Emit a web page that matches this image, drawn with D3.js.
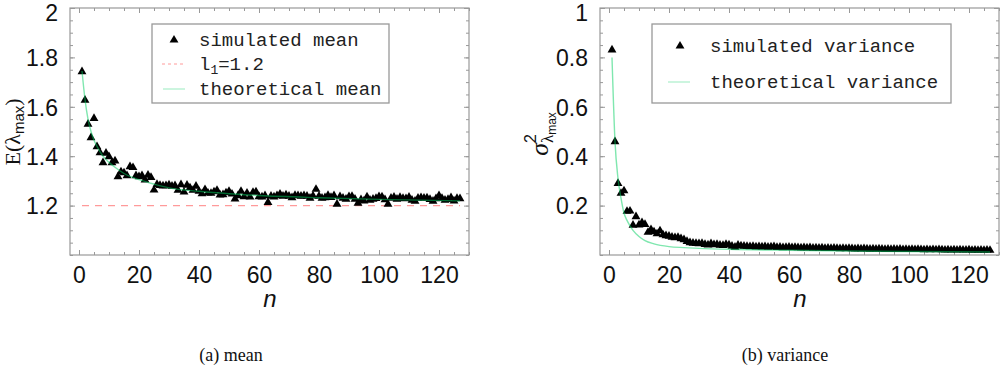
<!DOCTYPE html>
<html>
<head>
<meta charset="utf-8">
<script src="https://cdn.jsdelivr.net/npm/d3@7"></script>
<style>
  body { margin: 0; background: #fff; }
  svg { display: block; }
  .tick text { font-family: "Liberation Sans", Arial, sans-serif; font-size: 23px; fill: #111; }
  .legend text { font-family: "Liberation Mono", "Courier New", monospace; font-size: 19px; fill: #222; }
</style>
</head>
<body>
<div id="chart"></div>
<script>
const width = 1000, height = 368;

// simulated mean E(lambda_max), n = 1..127
const simMean = [
  1.742, 1.627, 1.530, 1.475, 1.553, 1.439, 1.414, 1.374, 1.412, 1.398,
  1.374, 1.381, 1.317, 1.337, 1.333, 1.321, 1.358, 1.354, 1.321, 1.317,
  1.321, 1.304, 1.323, 1.314, 1.263, 1.286, 1.282, 1.280, 1.281, 1.284,
  1.279, 1.281, 1.262, 1.285, 1.255, 1.283, 1.272, 1.262, 1.279, 1.258,
  1.248, 1.265, 1.251, 1.250, 1.256, 1.262, 1.243, 1.244, 1.252, 1.258,
  1.247, 1.227, 1.240, 1.258, 1.236, 1.251, 1.235, 1.254, 1.256, 1.236,
  1.235, 1.240, 1.213, 1.238, 1.235, 1.240, 1.247, 1.238, 1.243, 1.238,
  1.232, 1.241, 1.240, 1.238, 1.240, 1.238, 1.230, 1.239, 1.266, 1.238,
  1.230, 1.232, 1.241, 1.233, 1.240, 1.206, 1.236, 1.230, 1.226, 1.236,
  1.237, 1.226, 1.210, 1.224, 1.219, 1.235, 1.222, 1.226, 1.229, 1.236,
  1.235, 1.224, 1.206, 1.230, 1.234, 1.226, 1.233, 1.229, 1.228, 1.234,
  1.222, 1.218, 1.230, 1.232, 1.230, 1.231, 1.225, 1.218, 1.228, 1.240,
  1.229, 1.222, 1.225, 1.232, 1.219, 1.229, 1.228
];

// simulated variance, n = 1..127
const simVar = [
  0.830, 0.459, 0.290, 0.250, 0.260, 0.177, 0.178, 0.121, 0.155, 0.122,
  0.131, 0.124, 0.092, 0.103, 0.094, 0.086, 0.098, 0.082, 0.078, 0.076,
  0.072, 0.070, 0.071, 0.066, 0.062, 0.055, 0.050, 0.048, 0.047, 0.046,
  0.047, 0.043, 0.041, 0.046, 0.042, 0.043, 0.040, 0.039, 0.043, 0.041,
  0.036, 0.032, 0.040, 0.037, 0.036, 0.035, 0.034, 0.035, 0.033, 0.034,
  0.033, 0.034, 0.032, 0.033, 0.034, 0.031, 0.032, 0.030, 0.031, 0.032,
  0.030, 0.031, 0.030, 0.029, 0.030, 0.029, 0.030, 0.028, 0.029, 0.028,
  0.029, 0.027, 0.028, 0.027, 0.028, 0.027, 0.026, 0.027, 0.026, 0.027,
  0.026, 0.025, 0.026, 0.025, 0.026, 0.025, 0.024, 0.025, 0.024, 0.025,
  0.024, 0.023, 0.024, 0.023, 0.024, 0.023, 0.024, 0.022, 0.023, 0.022,
  0.023, 0.022, 0.023, 0.022, 0.021, 0.022, 0.021, 0.022, 0.021, 0.022,
  0.021, 0.020, 0.021, 0.020, 0.021, 0.020, 0.021, 0.020, 0.020, 0.021,
  0.019, 0.020, 0.019, 0.020, 0.019, 0.020, 0.019
];

// theoretical curves, read at a few n
const theoryMeanN = [1, 2, 3, 4, 5, 6, 8, 10, 12, 15, 20, 25, 30, 40, 50, 60, 80, 100, 127];
const theoryMean = [1.745, 1.630, 1.550, 1.500, 1.465, 1.440, 1.400, 1.375, 1.355, 1.330, 1.305, 1.287, 1.272, 1.258, 1.248, 1.241, 1.232, 1.225, 1.219];
const theoryVarN = [1, 2, 3, 4, 5, 6, 7, 8, 10, 12, 15, 20, 25, 30, 40, 60, 80, 100, 127];
const theoryVar = [0.800, 0.460, 0.310, 0.230, 0.170, 0.140, 0.118, 0.100, 0.075, 0.058, 0.045, 0.034, 0.030, 0.027, 0.023, 0.019, 0.016, 0.014, 0.012];

const l1 = 1.2;

const xTicks = [0, 20, 40, 60, 80, 100, 120];
const meanTicks = [1.2, 1.4, 1.6, 1.8, 2];
const varTicks = [0.2, 0.4, 0.6, 0.8, 1];

let svg = d3.select("#chart")
    .append("svg")
    .attr("width", width)
    .attr("height", height);

/**
 * Draws one framed panel with inward ticks on all four sides
 */
function drawPanel(p) {
    let x = d3.scaleLinear().domain([-3, 130]).range([p.left, p.right]);
    let y = d3.scaleLinear().domain(p.yDomain).range([p.bottom, p.top]);
    let g = svg.append("g");

    let minorX = d3.range(0, 131, 5);
    let minorY = d3.range(p.yDomain[0], p.yDomain[1] + 0.001, 0.05);

    // tick marks on the frame (no labels)
    let tickAxes = [
        [d3.axisBottom(x).tickValues(xTicks).tickSize(-5), `translate(0,${p.bottom})`],
        [d3.axisBottom(x).tickValues(minorX).tickSize(-3), `translate(0,${p.bottom})`],
        [d3.axisTop(x).tickValues(xTicks).tickSize(-5), `translate(0,${p.top})`],
        [d3.axisTop(x).tickValues(minorX).tickSize(-3), `translate(0,${p.top})`],
        [d3.axisLeft(y).tickValues(p.yTicks).tickSize(-5), `translate(${p.left},0)`],
        [d3.axisLeft(y).tickValues(minorY).tickSize(-3), `translate(${p.left},0)`],
        [d3.axisRight(y).tickValues(p.yTicks).tickSize(-5), `translate(${p.right},0)`],
        [d3.axisRight(y).tickValues(minorY).tickSize(-3), `translate(${p.right},0)`]
    ];
    tickAxes.forEach(function (a) {
        let ax = g.append("g").attr("transform", a[1]).call(a[0].tickFormat(""));
        ax.select(".domain").remove();
        ax.selectAll("line").attr("stroke", "#999");
    });

    // tick labels
    let xl = g.append("g")
        .attr("transform", `translate(0,${p.bottom + 9})`)
        .call(d3.axisBottom(x).tickValues(xTicks).tickSize(0));
    xl.select(".domain").remove();

    let yl = g.append("g")
        .attr("transform", `translate(${p.left - 9},0)`)
        .call(d3.axisLeft(y).tickValues(p.yTicks).tickSize(0)
            .tickFormat(d => String(+d.toFixed(1))));
    yl.select(".domain").remove();
    // top label sits a little lower so it is not clipped
    yl.selectAll("text").attr("dy", d => d === p.yDomain[1] ? "0.56em" : "0.36em");

    // reference line l1
    if (p.refLine != null) {
        g.append("line")
            .attr("x1", x(1)).attr("x2", x(127))
            .attr("y1", y(p.refLine)).attr("y2", y(p.refLine))
            .attr("stroke", "#ff9a9a")
            .attr("stroke-width", 1.3)
            .attr("stroke-dasharray", "7,6");
    }

    // simulated points
    g.append("g")
        .selectAll("path")
        .data(p.sim)
        .enter()
        .append("path")
        .attr("transform", (d, i) => `translate(${x(i + 1)},${y(d)})`)
        .attr("d", d3.symbol(d3.symbolTriangle, 34))
        .attr("fill", "#000");

    // theoretical curve
    let line = d3.line()
        .x((d, i) => x(p.theoryN[i]))
        .y(d => y(d))
        .curve(d3.curveMonotoneX);
    g.append("path")
        .datum(p.theory)
        .attr("d", line)
        .attr("fill", "none")
        .attr("stroke", "#00d060")
        .attr("stroke-opacity", 0.5)
        .attr("stroke-width", 1.4);

    // frame
    g.append("rect")
        .attr("x", p.left).attr("y", p.top)
        .attr("width", p.right - p.left).attr("height", p.bottom - p.top)
        .attr("fill", "none")
        .attr("stroke", "#999")
        .attr("stroke-width", 1.2);

    // legend
    let lg = g.append("g").attr("class", "legend");
    lg.append("rect")
        .attr("x", p.legend.x).attr("y", p.legend.y)
        .attr("width", p.legend.w).attr("height", p.legend.h)
        .attr("fill", "#fff")
        .attr("stroke", "#999")
        .attr("stroke-width", 1.3);
    p.legend.rows.forEach(function (r) {
        if (r.type === "tri") {
            lg.append("path")
                .attr("transform", `translate(${r.mx},${r.y})`)
                .attr("d", d3.symbol(d3.symbolTriangle, 34))
                .attr("fill", "#000");
        } else {
            lg.append("line")
                .attr("x1", r.mx - 11).attr("x2", r.mx + 11)
                .attr("y1", r.y).attr("y2", r.y)
                .attr("stroke", r.type === "dash" ? "#ff9a9a" : "#00d060")
                .attr("stroke-opacity", r.type === "dash" ? 1 : 0.4)
                .attr("stroke-width", 1)
                .attr("stroke-dasharray", r.type === "dash" ? "3,3" : null);
        }
        let t = lg.append("text")
            .attr("x", r.tx).attr("y", r.y)
            .attr("dy", "0.33em");
        if (r.sub) {
            t.append("tspan").text(r.label[0]);
            t.append("tspan").attr("font-size", "13px").attr("dy", "4").text(r.label[1]);
            t.append("tspan").attr("dy", "-4").text(r.label[2]);
        } else {
            t.text(r.label);
        }
    });
    return x;
}

let xl = drawPanel({
    left: 70, right: 469, top: 8, bottom: 255,
    yDomain: [1, 2], yTicks: meanTicks,
    sim: simMean, theory: theoryMean, theoryN: theoryMeanN, refLine: l1,
    legend: {
        x: 152, y: 24, w: 237, h: 79,
        rows: [
            {type: "tri", mx: 174, tx: 199, y: 40, label: "simulated mean"},
            {type: "dash", mx: 173, tx: 199, y: 64, label: ["l", "1", "=1.2"], sub: true},
            {type: "line", mx: 174, tx: 199, y: 89, label: "theoretical mean"}
        ]
    }
});

let xr = drawPanel({
    left: 600, right: 999, top: 8, bottom: 255,
    yDomain: [0, 1], yTicks: varTicks,
    sim: simVar, theory: theoryVar, theoryN: theoryVarN, refLine: null,
    legend: {
        x: 652, y: 24, w: 299, h: 79,
        rows: [
            {type: "tri", mx: 680, tx: 710, y: 46, label: "simulated variance"},
            {type: "line", mx: 679, tx: 710, y: 82, label: "theoretical variance"}
        ]
    }
});

// y-axis titles
let ytl = svg.append("text")
    .attr("transform", "translate(20,132) rotate(-90)")
    .attr("text-anchor", "middle")
    .attr("font-family", "Liberation Serif, serif")
    .attr("font-size", "22px")
    .attr("fill", "#111");
ytl.append("tspan").text("E(λ");
ytl.append("tspan").attr("font-family", "Liberation Sans, sans-serif").attr("font-size", "15px").attr("dy", "4").text("max");
ytl.append("tspan").attr("dy", "-4").text(")");

let ytr = svg.append("text")
    .attr("transform", "translate(548,134) rotate(-90)")
    .attr("text-anchor", "middle")
    .attr("font-family", "Liberation Sans, sans-serif")
    .attr("fill", "#111");
ytr.append("tspan").attr("font-family", "Liberation Serif, serif").attr("font-style", "italic").attr("font-size", "26px").text("σ");
ytr.append("tspan").attr("font-size", "16px").attr("dy", "-12").text("2");
ytr.append("tspan").attr("font-family", "Liberation Serif, serif").attr("font-size", "17px").attr("dx", "-9").attr("dy", "17").text("λ");
ytr.append("tspan").attr("font-size", "12px").attr("dy", "3").text("max");

// x-axis titles
[[270, "n"], [800, "n"]].forEach(function (d) {
    svg.append("text")
        .attr("x", d[0]).attr("y", 307)
        .attr("text-anchor", "middle")
        .attr("font-family", "Liberation Sans, sans-serif")
        .attr("font-style", "italic")
        .attr("font-size", "24px")
        .attr("fill", "#111")
        .text(d[1]);
});

// captions
[[231, "(a) mean"], [785, "(b) variance"]].forEach(function (d) {
    svg.append("text")
        .attr("x", d[0]).attr("y", 361)
        .attr("text-anchor", "middle")
        .attr("font-family", "Liberation Serif, serif")
        .attr("font-size", "18px")
        .attr("fill", "#111")
        .text(d[1]);
});
</script>
</body>
</html>
